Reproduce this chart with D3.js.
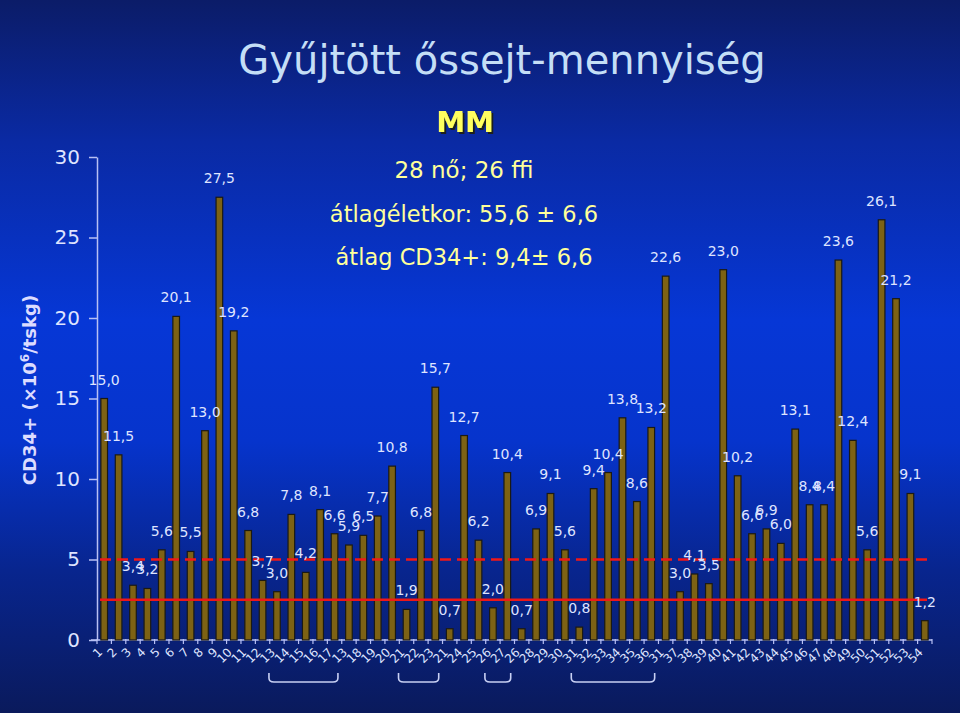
<!DOCTYPE html>
<html><head><meta charset="utf-8">
<script src="https://cdn.jsdelivr.net/npm/d3@7/dist/d3.min.js"></script>
<style>html,body{margin:0;padding:0;background:#0a1d66;} svg{display:block;}</style>
</head><body>
<svg id="chart" width="960" height="713"></svg>
<script>
// ---- data ----
const categories = ["1","2","3","4","5","6","7","8","9","10","11","12","13","14","15","16","17","13",
  "18","19","20","21","22","23","21","24","25","26","27","26","28","29","30","31","32","33","34","35","36","31",
  "37","38","39","40","41","42","43","44","45","46","47","48","49","50","51","52","53","54"];
const values = [15.0,11.5,3.4,3.2,5.6,20.1,5.5,13.0,27.5,19.2,6.8,3.7,3.0,7.8,4.2,8.1,6.6,5.9,
  6.5,7.7,10.8,1.9,6.8,15.7,0.7,12.7,6.2,2.0,10.4,0.7,6.9,9.1,5.6,0.8,9.4,10.4,13.8,8.6,13.2,22.6,
  3.0,4.1,3.5,23.0,10.2,6.6,6.9,6.0,13.1,8.4,8.4,23.6,12.4,5.6,26.1,21.2,9.1,1.2];
const yTicks = [0,5,10,15,20,25,30];
const dashedLevel = 5;
const solidLevel = 2.5;
const brackets = [[12,17],[21,24],[27,29],[33,39]];   // bar index ranges grouped under brackets
const titleText = "Gyűjtött őssejt-mennyiség";
const infoLines = ["MM","28 nő; 26 ffi","átlagéletkor: 55,6 ± 6,6","átlag CD34+: 9,4± 6,6"];

// ---- drawing ----
const W = 960, H = 713;
const FONT = "'DejaVu Sans', sans-serif";
const svg = d3.select("#chart");

const defs = svg.append("defs");
const grad = defs.append("linearGradient").attr("id","bg").attr("x1",0).attr("y1",0).attr("x2",0).attr("y2",1);
[[0,"#0b1c68"],[0.2,"#0a2aa4"],[0.45,"#0637d6"],[0.62,"#0634cc"],[0.8,"#08258e"],[1,"#0a1a5c"]]
  .forEach(([o,c]) => grad.append("stop").attr("offset",o).attr("stop-color",c));
defs.append("filter").attr("id","shadow").attr("x","-20%").attr("y","-20%").attr("width","140%").attr("height","140%")
  .append("feDropShadow").attr("dx",2).attr("dy",2).attr("stdDeviation",0.6)
  .attr("flood-color","#1e1e08").attr("flood-opacity",0.9);
svg.append("rect").attr("width",W).attr("height",H).attr("fill","url(#bg)");

const x = d3.scaleBand().domain(d3.range(values.length)).range([97, 932]).padding(0);
const y = d3.scaleLinear().domain([0,30]).range([640,157]);
const bw = x.bandwidth();
const barW = bw*0.46;
const cx = i => x(i) + bw/2;
const axisColor = "#b8c0f4";
const textColor = "#dfe4ff";

// y axis
const yAxis = svg.append("g").attr("transform","translate(97,0)")
  .call(d3.axisLeft(y).tickValues(yTicks).tickSize(8).tickSizeOuter(0).tickPadding(9));
yAxis.select(".domain").attr("stroke",axisColor).attr("stroke-width",1.5);
yAxis.selectAll(".tick line").attr("stroke",axisColor).attr("stroke-width",1.5);
yAxis.selectAll(".tick text").attr("fill",textColor).attr("font-size",20).attr("font-family",FONT);

// x axis
const xAxis = svg.append("g").attr("transform","translate(0,640)")
  .call(d3.axisBottom(x).tickSize(0).tickSizeOuter(0).tickFormat(i => categories[i]));
xAxis.select(".domain").attr("d", `M91,0H${x.range()[1]}`).attr("stroke",axisColor).attr("stroke-width",1.5);
xAxis.selectAll(".tick text")
  .attr("fill",textColor).attr("font-size",12).attr("font-family",FONT)
  .attr("text-anchor","end")
  .attr("transform","translate(-4,10) rotate(-45)")
  .attr("dx",0).attr("dy","0.35em").attr("y",0);
xAxis.append("g").selectAll("line").data(d3.range(values.length+1)).join("line")
  .attr("x1", i => x.range()[0] + i*x.step()).attr("x2", i => x.range()[0] + i*x.step())
  .attr("y1",-1).attr("y2",4).attr("stroke",axisColor).attr("stroke-width",1.2);

// bars
svg.append("g").selectAll("rect").data(values).join("rect")
  .attr("x",(d,i) => cx(i) - barW/2).attr("width",barW)
  .attr("y",d => y(d)).attr("height",d => y(0)-y(d))
  .attr("fill","#7d6214").attr("stroke","#1b1a14").attr("stroke-width",1.2);

// threshold lines
svg.append("line").attr("x1",100).attr("x2",933).attr("y1",y(dashedLevel)).attr("y2",y(dashedLevel))
  .attr("stroke","#f01818").attr("stroke-width",2.4).attr("stroke-dasharray","11,6");
svg.append("line").attr("x1",100).attr("x2",927).attr("y1",y(solidLevel)).attr("y2",y(solidLevel))
  .attr("stroke","#ec1818").attr("stroke-width",2.6);

// value labels
const fmt = v => d3.format(".1f")(v).replace(".", ",");
svg.append("g").selectAll("text").data(values).join("text")
  .attr("x",(d,i) => cx(i)).attr("y",d => y(d) - 14)
  .attr("text-anchor","middle").attr("fill",textColor)
  .attr("font-size",14).attr("font-family",FONT)
  .text(fmt);

// brackets
svg.append("g").selectAll("path").data(brackets).join("path")
  .attr("d", ([s,e]) => {
    const x1 = cx(s) - 8, x2 = cx(e) - 11;
    return `M${x1},673 L${x1},678 Q${x1},682 ${x1+5},682 L${x2-5},682 Q${x2},682 ${x2},678 L${x2},673`;
  })
  .attr("fill","none").attr("stroke","#c8d0f4").attr("stroke-width",1.6);

// title
svg.append("text").attr("x",502).attr("y",74).attr("text-anchor","middle")
  .attr("fill","#c4def6").attr("font-size",40).attr("font-family",FONT).text(titleText);

// y label
const yl = svg.append("text").attr("transform","translate(36,390) rotate(-90)")
  .attr("text-anchor","middle").attr("fill","#dcdcff").attr("font-weight","bold")
  .attr("font-size",18).attr("font-family",FONT);
yl.append("tspan").text("CD34+ (×10");
yl.append("tspan").attr("font-size",12).attr("dy",-7).text("6");
yl.append("tspan").attr("dy",7).text("/tskg)");

// info lines
const info = svg.append("g").attr("font-family",FONT).attr("text-anchor","middle");
info.append("text").attr("x",465).attr("y",132).attr("fill","#ffff5e").attr("font-size",29)
  .attr("font-weight","bold").attr("filter","url(#shadow)").text(infoLines[0]);
[[178,23,infoLines[1]],[222,22.5,infoLines[2]],[265,22.5,infoLines[3]]].forEach(([yy,fs,t]) =>
  info.append("text").attr("x",464).attr("y",yy).attr("fill","#ffff9a").attr("font-size",fs).text(t));
</script>
</body></html>
